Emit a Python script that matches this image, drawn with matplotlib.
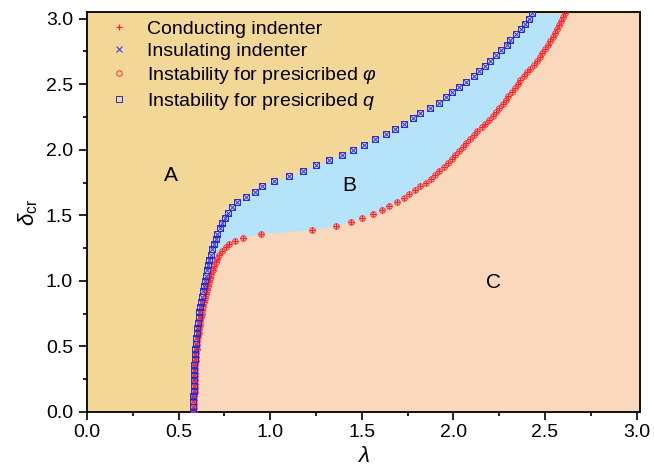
import matplotlib
matplotlib.use("Agg")
import matplotlib.pyplot as plt

plt.rcParams['font.family'] = ['Liberation Sans', 'DejaVu Sans']
plt.rcParams['mathtext.fontset'] = 'custom'
plt.rcParams['mathtext.rm'] = 'Liberation Sans'
plt.rcParams['mathtext.it'] = 'Liberation Sans:italic'

# curva roja: indentador conductor / inestabilidad con phi prescrito
delta_rojo = [0.00, 0.03, 0.06, 0.09, 0.12, 0.15, 0.18, 0.21, 0.24, 0.27,
              0.30, 0.33, 0.36, 0.39, 0.42, 0.45, 0.48, 0.51, 0.54, 0.57,
              0.60, 0.63, 0.66, 0.69, 0.72, 0.75, 0.78, 0.81, 0.84, 0.87,
              0.90, 0.93, 0.96, 0.99, 1.02, 1.05, 1.08, 1.11, 1.14, 1.17,
              1.20, 1.23, 1.26, 1.28, 1.305, 1.33, 1.36, 1.39, 1.42, 1.45,
              1.48, 1.51, 1.54, 1.57, 1.60, 1.63, 1.66, 1.69, 1.72, 1.75,
              1.78, 1.81, 1.84, 1.87, 1.90, 1.93, 1.96, 1.99, 2.02, 2.05,
              2.08, 2.11, 2.14, 2.17, 2.20, 2.23, 2.26, 2.29, 2.32, 2.35,
              2.38, 2.41, 2.44, 2.47, 2.50, 2.53, 2.56, 2.59, 2.62, 2.65,
              2.68, 2.71, 2.74, 2.77, 2.80, 2.83, 2.86, 2.89, 2.92, 2.95,
              2.98, 3.01, 3.04]
lambda_rojo = [0.585, 0.585, 0.585, 0.586, 0.586, 0.587, 0.587, 0.588, 0.588, 0.589,
               0.590, 0.591, 0.592, 0.593, 0.595, 0.597, 0.599, 0.601, 0.603, 0.606,
               0.609, 0.612, 0.615, 0.618, 0.622, 0.626, 0.630, 0.634, 0.639, 0.644,
               0.649, 0.654, 0.659, 0.665, 0.671, 0.678, 0.686, 0.694, 0.703, 0.711,
               0.720, 0.738, 0.758, 0.776, 0.810, 0.850, 0.950, 1.230, 1.360, 1.440,
               1.500, 1.560, 1.610, 1.650, 1.690, 1.730, 1.760, 1.790, 1.820, 1.850,
               1.880, 1.900, 1.920, 1.950, 1.970, 1.990, 2.010, 2.030, 2.050, 2.070,
               2.090, 2.110, 2.130, 2.155, 2.175, 2.195, 2.215, 2.235, 2.250, 2.270,
               2.285, 2.300, 2.320, 2.335, 2.350, 2.365, 2.385, 2.400, 2.420, 2.440,
               2.455, 2.470, 2.485, 2.500, 2.515, 2.530, 2.545, 2.555, 2.565, 2.575,
               2.590, 2.600, 2.610]

# curva azul: indentador aislante / inestabilidad con q prescrito
delta_azul = [0.00, 0.04, 0.08, 0.12, 0.16, 0.20, 0.24, 0.28, 0.32, 0.36,
              0.40, 0.44, 0.48, 0.52, 0.56, 0.60, 0.64, 0.68, 0.72, 0.76,
              0.80, 0.84, 0.88, 0.92, 0.96, 1.00, 1.04, 1.08, 1.12, 1.16,
              1.20, 1.24, 1.28, 1.32, 1.36, 1.40, 1.44, 1.48, 1.52, 1.56,
              1.60, 1.64, 1.68, 1.72, 1.76, 1.80, 1.84, 1.88, 1.92, 1.96,
              2.00, 2.04, 2.08, 2.12, 2.16, 2.20, 2.24, 2.28, 2.32, 2.36,
              2.40, 2.44, 2.48, 2.52, 2.56, 2.60, 2.64, 2.68, 2.72, 2.76,
              2.80, 2.84, 2.88, 2.92, 2.96, 3.00, 3.04]
lambda_azul = [0.580, 0.580, 0.581, 0.581, 0.582, 0.582, 0.583, 0.584, 0.585, 0.586,
               0.587, 0.589, 0.591, 0.593, 0.595, 0.598, 0.601, 0.605, 0.609, 0.613,
               0.617, 0.621, 0.626, 0.632, 0.638, 0.644, 0.650, 0.656, 0.662, 0.668,
               0.676, 0.684, 0.693, 0.702, 0.712, 0.724, 0.737, 0.752, 0.770, 0.792,
               0.820, 0.870, 0.915, 0.956, 1.020, 1.100, 1.180, 1.250, 1.320, 1.390,
               1.450, 1.510, 1.570, 1.630, 1.680, 1.730, 1.780, 1.820, 1.870, 1.920,
               1.960, 1.990, 2.030, 2.070, 2.110, 2.140, 2.170, 2.200, 2.230, 2.260,
               2.290, 2.310, 2.340, 2.370, 2.390, 2.410, 2.430]

# etiquetas de las regiones
regiones = ['A', 'B', 'C']
regiones_x = [0.46, 1.43, 2.22]
regiones_y = [1.80, 1.73, 0.99]

color_A = '#F3D797'
color_B = '#B5E3FA'
color_C = '#FAD8BC'

fig = plt.figure(figsize=(6.54, 4.68), dpi=100)
ax = fig.add_axes([0.133, 0.12, 0.846, 0.854])

x_max = 3.02
y_max = 3.05

# regiones sombreadas
ax.set_facecolor(color_A)
ax.fill_betweenx(delta_azul, lambda_azul, 3.2, color=color_B, lw=0, zorder=0)
ax.fill_betweenx(delta_rojo, lambda_rojo, 3.2, color=color_C, lw=0, zorder=0)

# marcadores
ax.plot(lambda_rojo, delta_rojo, ls='none', marker='+', ms=4.5, mew=0.9,
        color='#FF2020', label='Conducting indenter', zorder=3)
ax.plot(lambda_azul, delta_azul, ls='none', marker='x', ms=4.5, mew=0.8,
        color='#4040E8', label='Insulating indenter', zorder=3)
ax.plot(lambda_rojo, delta_rojo, ls='none', marker='o', ms=4, mew=0.7,
        mfc='none', color='#FF3030', label=r'Instability for presicribed $\varphi$', zorder=4)
ax.plot(lambda_azul, delta_azul, ls='none', marker='s', ms=3.8, mew=0.7,
        mfc='none', color='#2828D8', label='Instability for presicribed $q$', zorder=4)

for t, x, y in zip(regiones, regiones_x, regiones_y):
    ax.text(x, y, t, fontsize=15, ha='center', va='center')

ax.set_xlim(0, x_max)
ax.set_ylim(0, y_max)
ax.set_xticks([0.0, 0.5, 1.0, 1.5, 2.0, 2.5, 3.0])
ax.set_yticks([0.0, 0.5, 1.0, 1.5, 2.0, 2.5, 3.0])
ax.set_xticks([0.25, 0.75, 1.25, 1.75, 2.25, 2.75], minor=True)
ax.set_yticks([0.25, 0.75, 1.25, 1.75, 2.25, 2.75], minor=True)
ax.xaxis.set_major_formatter(matplotlib.ticker.FormatStrFormatter('%.1f'))
ax.yaxis.set_major_formatter(matplotlib.ticker.FormatStrFormatter('%.1f'))
ax.tick_params(which='major', direction='out', length=5.5, width=1.2, labelsize=14)
ax.tick_params(axis='y', which='major', pad=4.5)
ax.tick_params(which='minor', direction='out', length=3.1, width=1.2)
for s in ax.spines.values():
    s.set_linewidth(1.3)

ax.set_xlabel(r'$\lambda$', fontsize=16, labelpad=3)
ax.set_ylabel(r'$\delta_{\rm cr}$', fontsize=16, labelpad=4)

ax.legend(loc='upper left', bbox_to_anchor=(0.025, 0.99), frameon=False,
          fontsize=14, handletextpad=0.7, borderaxespad=0, borderpad=0.2,
          labelspacing=0.25, handlelength=1.5)

fig.savefig('out.png', dpi=100)
